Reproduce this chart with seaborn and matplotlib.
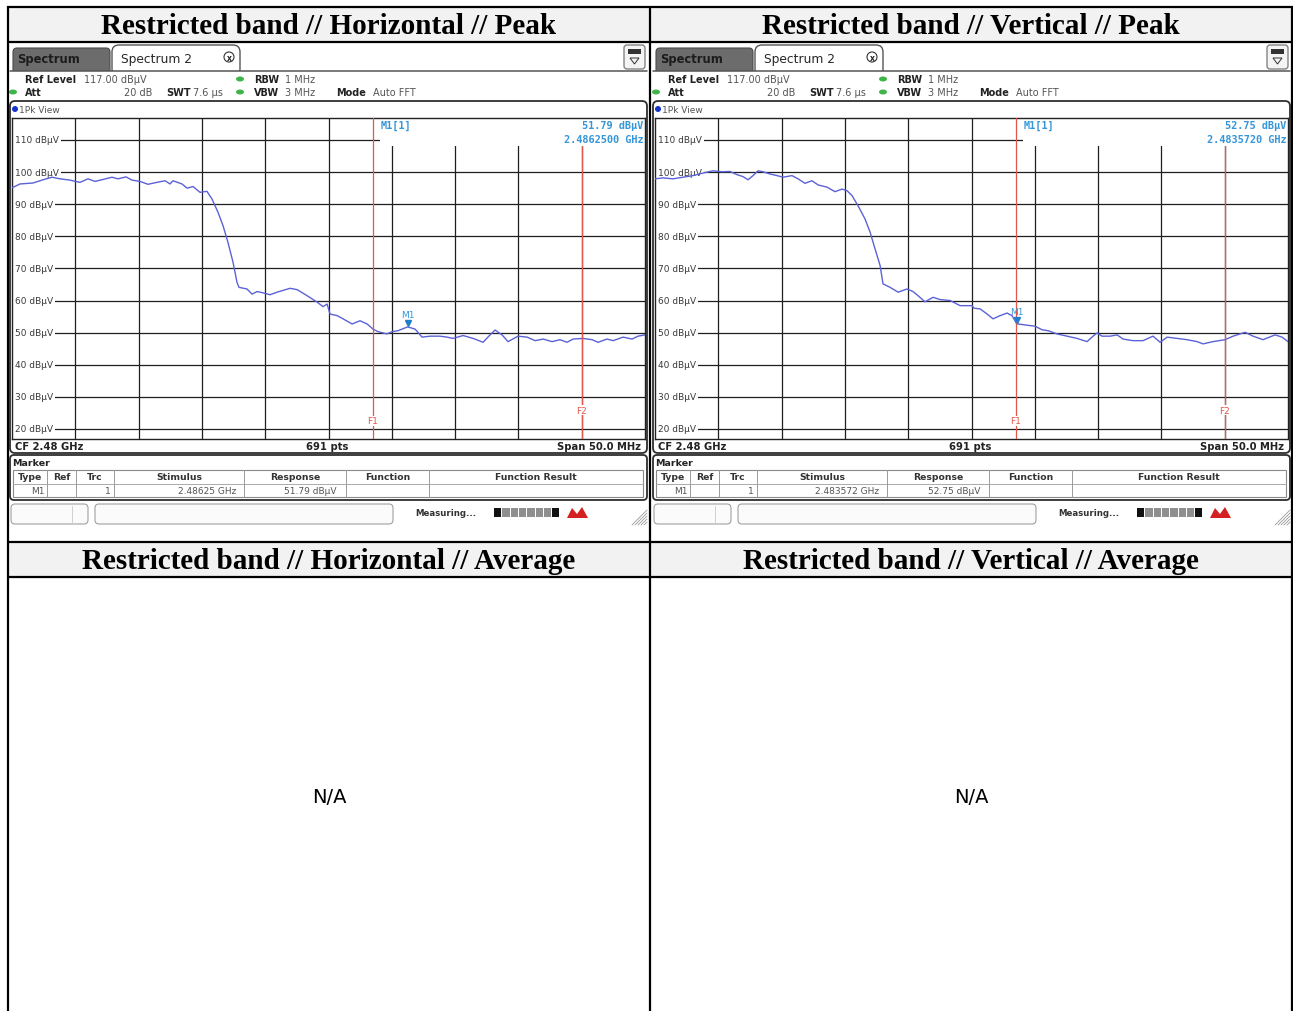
import matplotlib
matplotlib.use("Agg")
import matplotlib.pyplot as plt
from matplotlib.patches import Rectangle, FancyBboxPatch, Circle, Ellipse, Polygon
from matplotlib import transforms
import pandas as pd
import seaborn as sns

sns.set_theme(style="white")
plt.rcParams["font.family"] = ["DejaVu Sans"]

# ---------------- measurement data ----------------
# Horizontal polarisation, peak detector (frequency in MHz, level in dBuV)
h_freq_mhz = [2455.0, 2455.63, 2456.66, 2457.45, 2458.16, 2458.79, 2459.58, 2460.37,
              2461.00, 2461.56, 2462.19, 2462.90, 2463.37, 2464.01, 2464.48, 2465.11,
              2465.74, 2466.45, 2467.09, 2467.48, 2467.72, 2468.43, 2468.83, 2469.30,
              2469.85, 2470.40, 2470.80, 2471.27, 2471.67, 2472.06, 2472.46, 2472.77,
              2472.93, 2473.56, 2473.96, 2474.36, 2474.83, 2475.38, 2475.94, 2476.96,
              2477.52, 2478.31, 2479.10, 2479.57, 2479.89, 2480.12, 2480.68, 2481.15,
              2481.86, 2482.49, 2483.05, 2483.52, 2483.91, 2484.62, 2485.02, 2485.49,
              2486.25, 2486.84, 2487.39, 2488.02, 2488.81, 2489.37, 2489.84, 2490.63,
              2491.42, 2492.21, 2492.76, 2493.16, 2493.71, 2494.18, 2494.97, 2495.69,
              2496.32, 2496.95, 2497.66, 2498.29, 2498.84, 2499.32, 2500.10, 2500.82,
              2501.29, 2502.00, 2502.48, 2503.27, 2503.98, 2504.45, 2505.0]
h_level_dbuv = [95.1, 96.3, 96.6, 97.6, 98.4, 97.9, 97.5, 96.8,
                97.9, 97.1, 97.7, 98.4, 97.9, 98.5, 97.5, 97.1,
                96.2, 96.8, 97.3, 96.3, 97.3, 96.3, 95.0, 95.5,
                93.7, 94.0, 91.6, 87.5, 83.3, 78.1, 71.9, 65.7,
                64.1, 63.6, 62.0, 62.8, 62.4, 61.8, 62.6, 63.8,
                63.4, 61.5, 59.5, 58.1, 58.9, 55.8, 55.3, 54.3,
                52.7, 53.7, 52.7, 51.1, 50.3, 49.6, 50.3, 50.6,
                51.79, 51.1, 48.6, 48.9, 48.9, 48.6, 48.2, 49.1,
                48.2, 47.0, 49.3, 50.8, 49.3, 47.2, 48.9, 48.6,
                47.5, 48.0, 47.2, 47.8, 47.0, 48.0, 48.2, 47.8,
                47.0, 48.0, 47.5, 48.6, 48.0, 48.9, 49.3]

# Vertical polarisation, peak detector
v_freq_mhz = [2455.0, 2455.63, 2456.42, 2457.21, 2458.00, 2458.79, 2459.58, 2460.29,
              2460.92, 2461.48, 2461.95, 2462.35, 2462.74, 2463.14, 2463.53, 2464.09,
              2464.64, 2465.11, 2465.82, 2466.30, 2466.85, 2467.40, 2467.88, 2468.59,
              2469.22, 2469.77, 2470.17, 2470.56, 2471.04, 2471.59, 2471.99, 2472.38,
              2472.78, 2473.01, 2473.57, 2474.20, 2474.91, 2475.38, 2475.78, 2476.33,
              2476.96, 2477.52, 2478.31, 2479.10, 2480.04, 2480.20, 2480.68, 2481.23,
              2481.70, 2482.26, 2482.81, 2483.20, 2483.572, 2484.23, 2485.02, 2485.57,
              2486.05, 2486.76, 2487.55, 2488.34, 2489.13, 2489.60, 2489.92, 2490.31,
              2490.95, 2491.50, 2491.97, 2492.76, 2493.55, 2494.34, 2494.90, 2495.45,
              2496.24, 2497.03, 2497.82, 2498.29, 2499.08, 2500.03, 2500.66, 2501.61,
              2502.24, 2503.03, 2503.98, 2504.53, 2505.0]
v_level_dbuv = [97.9, 98.2, 97.9, 98.4, 98.9, 99.7, 100.4, 100.1,
                100.2, 99.2, 98.6, 97.6, 98.9, 100.4, 100.1, 99.4,
                98.9, 98.4, 98.9, 97.9, 96.5, 97.3, 96.0, 95.3,
                93.9, 94.7, 94.2, 92.7, 89.5, 85.4, 81.3, 76.1,
                70.9, 65.2, 64.1, 62.6, 63.6, 62.8, 61.5, 59.6,
                61.0, 60.3, 60.0, 58.4, 58.4, 57.6, 57.4, 55.8,
                54.3, 55.3, 56.1, 55.3, 52.75, 52.4, 52.0, 50.9,
                50.6, 49.6, 48.9, 48.2, 47.2, 48.9, 49.9, 48.9,
                48.9, 49.3, 48.0, 47.5, 47.5, 48.9, 47.0, 48.6,
                48.2, 47.8, 47.2, 46.5, 47.2, 47.8, 48.9, 50.1,
                48.9, 47.8, 49.3, 48.6, 47.2]

# Analyzer settings
center_ghz = 2.48
span_mhz = 50.0
ref_level_dbuv = 117.0
att_db = 20
rbw_mhz = 1
vbw_mhz = 3
swt_us = 7.6
sweep_points = 691
f1_mhz = 2483.5
f2_mhz = 2500.0

# Marker M1 (frequency MHz, level dBuV)
h_marker = (2486.25, 51.79)
v_marker = (2483.572, 52.75)

level_grid = [110, 100, 90, 80, 70, 60, 50, 40, 30, 20]
freq_grid = [2460, 2465, 2470, 2475, 2480, 2485, 2490, 2495, 2500]

peak_titles = ["Restricted band // Horizontal // Peak", "Restricted band // Vertical // Peak"]
avg_titles = ["Restricted band // Horizontal // Average", "Restricted band // Vertical // Average"]
avg_note = "N/A"

# ---------------- styling ----------------
W, H = 1293, 1012
TRACE = "#5b62d6"
RED = "#e2574b"
MBLUE = "#3596d8"
GREEN = "#3db54a"
TXT = "#3a3a3a"
SERIF = ["Liberation Serif", "DejaVu Serif"]

fig = plt.figure(figsize=(W / 100, H / 100), dpi=100)
cv = fig.add_axes([0, 0, 1, 1])
cv.set_xlim(0, W)
cv.set_ylim(H, 0)
cv.axis("off")


def rbox(x, y, w, h, r, **kw):
    cv.add_patch(FancyBboxPatch((x, y), w, h, boxstyle=f"round,pad=0,rounding_size={r}", **kw))


def txt(x, y, s, **kw):
    kw.setdefault("va", "center")
    kw.setdefault("fontsize", 6.5)
    kw.setdefault("color", TXT)
    cv.text(x, y, s, **kw)


def draw_screen(ox, freqs, levels, marker):
    mf, ml = marker
    # tab strip
    rbox(13 + ox, 49, 97, 28, 4, fc="#6c6c6c", ec="#4a4a4a", lw=0.8, zorder=1)
    rbox(112 + ox, 46, 128, 31, 7, fc="white", ec="#555555", lw=1.0, zorder=1)
    cv.add_patch(Rectangle((9 + ox, 72), 639, 30, fc="white", ec="none", zorder=2))
    cv.plot([10 + ox, 647 + ox], [72, 72], color="#555555", lw=1.1, zorder=3)
    txt(17 + ox, 59.5, "Spectrum", fontsize=8.3, fontweight="bold", color="#1c1c1c", zorder=3)
    txt(121 + ox, 59, "Spectrum 2", fontsize=8.8, color="#262626", zorder=3)
    cv.add_patch(Circle((229 + ox, 58), 5, fc="white", ec="#333333", lw=0.8, zorder=3))
    txt(229 + ox, 58, "x", fontsize=5.5, fontweight="bold", ha="center", color="#222", zorder=4)
    rbox(624 + ox, 46, 21, 24, 3, fc="#f4f4f4", ec="#777777", lw=0.9, zorder=3)
    cv.add_patch(Rectangle((628 + ox, 50), 13, 5, fc="#333333", ec="none", zorder=4))
    cv.add_patch(Polygon([(630 + ox, 59), (639 + ox, 59), (634.5 + ox, 65)], closed=True,
                         fill=False, ec="#333333", lw=0.7, zorder=4))

    # settings header
    hs = 7.0
    txt(25 + ox, 80, "Ref Level", fontsize=hs, fontweight="bold", color="#222", zorder=3)
    txt(84 + ox, 80, f"{ref_level_dbuv:.2f} dBµV", fontsize=hs, zorder=3, color="#555")
    for yy in (80, 93):
        cv.add_patch(Ellipse((240 + ox, yy), 8, 5, fc=GREEN, ec="none", zorder=3))
    cv.add_patch(Ellipse((13 + ox, 93), 8, 5, fc=GREEN, ec="none", zorder=3))
    txt(254 + ox, 80, "RBW", fontsize=hs, fontweight="bold", color="#222", zorder=3)
    txt(285 + ox, 80, f"{rbw_mhz} MHz", fontsize=hs, zorder=3, color="#555")
    txt(25 + ox, 93, "Att", fontsize=hs, fontweight="bold", color="#222", zorder=3)
    txt(152 + ox, 93, f"{att_db} dB", fontsize=hs, ha="right", zorder=3, color="#555")
    txt(166 + ox, 93, "SWT", fontsize=hs, fontweight="bold", color="#222", zorder=3)
    txt(193 + ox, 93, f"{swt_us} µs", fontsize=hs, zorder=3, color="#555")
    txt(254 + ox, 93, "VBW", fontsize=hs, fontweight="bold", color="#222", zorder=3)
    txt(285 + ox, 93, f"{vbw_mhz} MHz", fontsize=hs, zorder=3, color="#555")
    txt(336 + ox, 93, "Mode", fontsize=hs, fontweight="bold", color="#222", zorder=3)
    txt(373 + ox, 93, "Auto FFT", fontsize=hs, zorder=3, color="#555")

    # diagram frame
    rbox(10 + ox, 102, 637, 352, 5, fc="white", ec="#2e2e2e", lw=1.3, zorder=3)
    cv.add_patch(Circle((15 + ox, 110), 3, fc="#1535c8", ec="none", zorder=4))
    txt(19 + ox, 110, "1Pk View", zorder=4, color="#555")
    txt(15 + ox, 447, f"CF {center_ghz:.2f} GHz", fontsize=7.2, fontweight="bold", color="#222", zorder=4)
    txt(327 + ox, 447, f"{sweep_points} pts", fontsize=7.2, fontweight="bold", ha="center", color="#222", zorder=4)
    txt(641 + ox, 447, f"Span {span_mhz:.1f} MHz", fontsize=7.2, fontweight="bold", ha="right", color="#222", zorder=4)

    # marker table
    rbox(10 + ox, 456, 637, 45, 4, fc="white", ec="#2e2e2e", lw=1.3, zorder=3)
    txt(12 + ox, 463, "Marker", fontsize=6.8, fontweight="bold", color="#222", zorder=4)
    cv.add_patch(Rectangle((13 + ox, 471), 630, 27, fc="none", ec="#8a8a8a", lw=0.8, zorder=4))
    cv.plot([13 + ox, 643 + ox], [485, 485], color="#aaaaaa", lw=0.7, zorder=4)
    seps = [13, 47, 76, 114, 244, 346, 429, 643]
    heads = ["Type", "Ref", "Trc", "Stimulus", "Response", "Function", "Function Result"]
    for a, b, hd in zip(seps[:-1], seps[1:], heads):
        txt((a + b) / 2 + ox, 478, hd, ha="center", fontsize=6.7, fontweight="bold", color="#333", zorder=5)
    for s in seps[1:-1]:
        cv.plot([s + ox, s + ox], [471, 498], color="#9a9a9a", lw=0.7, zorder=4)
    txt(45 + ox, 492, "M1", ha="right", color="#555", zorder=5)
    txt(111 + ox, 492, "1", ha="right", color="#555", zorder=5)
    txt(236 + ox, 492, f"{round(mf / 1000, 6)} GHz", ha="right", color="#555", zorder=5)
    txt(337 + ox, 492, f"{ml:.2f} dBµV", ha="right", color="#555", zorder=5)

    # status bar
    rbox(11 + ox, 505, 77, 20, 4, fc="#fbfbfb", ec="#a0a0a0", lw=0.8, zorder=3)
    cv.plot([72 + ox, 72 + ox], [507, 523], color="#d0d0d0", lw=0.7, zorder=4)
    rbox(95 + ox, 505, 298, 20, 4, fc="#fbfbfb", ec="#a0a0a0", lw=0.8, zorder=3)
    txt(415 + ox, 514, "Measuring...", fontsize=6.2, fontweight="bold", color="#333", zorder=4)
    for k in range(8):
        fc = "#111111" if k in (0, 7) else "#8f8f8f"
        cv.add_patch(Rectangle((494 + ox + k * 8.3, 509), 7.3, 9, fc=fc, ec="none", zorder=4))
    cv.add_patch(Polygon([(567 + ox, 519), (572 + ox, 509), (577 + ox, 515), (582 + ox, 508),
                          (588 + ox, 519)], closed=True, fc="#d42020", ec="none", zorder=4))
    for k in range(5):
        d = 3 + 3 * k
        cv.plot([647 + ox - d, 647 + ox], [526, 526 - d], color="#9a9a9a", lw=0.6, zorder=4)

    # spectrum diagram
    ax = fig.add_axes([(12 + ox) / W, 1 - 439.6 / H, 633 / W, 321.1 / H], zorder=10)
    df = pd.DataFrame({"Frequency (MHz)": freqs, "Level (dBµV)": levels})
    sns.lineplot(data=df, x="Frequency (MHz)", y="Level (dBµV)", ax=ax, color=TRACE,
                 lw=1.0, estimator=None, sort=False, legend=False, zorder=4)
    f0 = center_ghz * 1000 - span_mhz / 2
    ax.set_xlim(f0, f0 + span_mhz)
    ax.set_ylim(ref_level_dbuv - 100, ref_level_dbuv)
    ax.set_xticks(freq_grid)
    ax.set_yticks(level_grid)
    ax.grid(True, color="#1e1e1e", lw=0.9)
    ax.tick_params(length=0, labelbottom=False, labelleft=False)
    ax.set_xlabel("")
    ax.set_ylabel("")
    ax.set_facecolor("white")
    for sp in ax.spines.values():
        sp.set_color("#222222")
        sp.set_linewidth(1.0)

    yblend = transforms.blended_transform_factory(ax.transAxes, ax.transData)
    for lv in level_grid:
        ax.text(0.0048, lv, f"{lv} dBµV", transform=yblend, va="center", ha="left",
                fontsize=6.5, color="#3a3a3a", zorder=2.4,
                bbox=dict(fc="white", ec="none", pad=1.6))

    # marker readout area
    ax.add_patch(Rectangle((0.5814, 0.911), 0.4186, 0.089, transform=ax.transAxes,
                           fc="white", ec="none", zorder=2))
    mono = dict(transform=ax.transAxes, fontsize=7.4, color=MBLUE, family="DejaVu Sans Mono",
                fontweight="bold", va="center", zorder=6)
    ax.text(0.583, 0.977, "M1[1]", ha="left", **mono)
    ax.text(0.998, 0.977, f"{ml:.2f} dBµV", ha="right", **mono)
    ax.text(0.998, 0.933, f"{mf / 1000:.7f} GHz", ha="right", **mono)

    # frequency lines
    ax.axvline(f1_mhz, color=RED, lw=0.9, zorder=5)
    ax.axvline(f2_mhz, ymax=0.911, color=RED, lw=0.9, zorder=5)
    xblend = transforms.blended_transform_factory(ax.transData, ax.transAxes)
    ax.text(f1_mhz, 0.055, "F1", transform=xblend, fontsize=6.5, color=RED, ha="center",
            va="center", zorder=6, bbox=dict(fc="white", ec="none", pad=0.3))
    ax.text(f2_mhz, 0.089, "F2", transform=xblend, fontsize=6.5, color=RED, ha="center",
            va="center", zorder=6, bbox=dict(fc="white", ec="none", pad=0.3))

    # marker M1 on the trace
    tri = transforms.offset_copy(ax.transData, fig=fig, y=3.5, units="dots")
    ax.plot([mf], [ml], marker="v", ms=5, color="#1f7fc8", transform=tri, zorder=7)
    lab = transforms.offset_copy(ax.transData, fig=fig, y=12, units="dots")
    ax.text(mf, ml, "M1", transform=lab, fontsize=6.5, color=MBLUE, ha="center",
            va="center", zorder=7)


# ---------------- report table ----------------
cv.add_patch(Rectangle((9, 9), 1283, 34, fc="#f2f2f2", ec="none", zorder=0))
cv.add_patch(Rectangle((9, 543), 1283, 35, fc="#f2f2f2", ec="none", zorder=0))

draw_screen(0, h_freq_mhz, h_level_dbuv, h_marker)
draw_screen(643, v_freq_mhz, v_level_dbuv, v_marker)

for cx, t in zip((329, 971), peak_titles):
    txt(cx, 26.5, t, fontsize=21, fontweight="bold", family=SERIF, ha="center", color="black", zorder=6)
for cx, t in zip((329, 971), avg_titles):
    txt(cx, 561.5, t, fontsize=21, fontweight="bold", family=SERIF, ha="center", color="black", zorder=6)
for cx in (329, 971):
    txt(cx, 798, avg_note, fontsize=14, ha="center", color="black", zorder=6)

lw_b = 1.6
for y in (8, 43, 542.5, 578):
    cv.plot([7, 1293], [y, y], color="black", lw=lw_b, zorder=20, solid_capstyle="butt")
for x in (8, 650, 1291.8):
    cv.plot([x, x], [7, H], color="black", lw=lw_b, zorder=20, solid_capstyle="butt")

fig.savefig("out.png", dpi=100)
